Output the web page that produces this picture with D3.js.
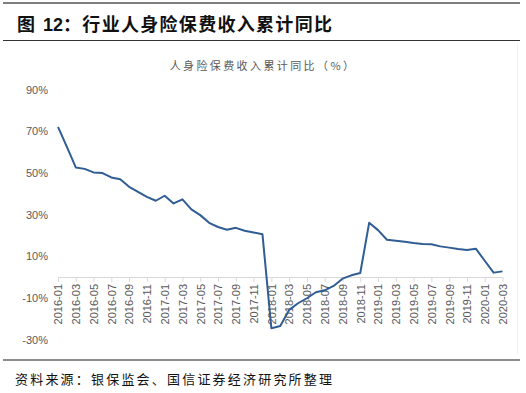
<!DOCTYPE html>
<html>
<head>
<meta charset="utf-8">
<script src="https://cdn.jsdelivr.net/npm/d3@7"></script>
<style>
  body { margin: 0; background: #fff; }
  svg { display: block; }
</style>
</head>
<body>
<div id="chart"></div>
<script>
// 月份 2016-01 ~ 2020-03
const months = [
    '2016-01', '2016-02', '2016-03', '2016-04', '2016-05', '2016-06', '2016-07', '2016-08', '2016-09', '2016-10', '2016-11', '2016-12',
    '2017-01', '2017-02', '2017-03', '2017-04', '2017-05', '2017-06', '2017-07', '2017-08', '2017-09', '2017-10', '2017-11', '2017-12',
    '2018-01', '2018-02', '2018-03', '2018-04', '2018-05', '2018-06', '2018-07', '2018-08', '2018-09', '2018-10', '2018-11', '2018-12',
    '2019-01', '2019-02', '2019-03', '2019-04', '2019-05', '2019-06', '2019-07', '2019-08', '2019-09', '2019-10', '2019-11', '2019-12',
    '2020-01', '2020-02', '2020-03'
];

// 人身险保费收入累计同比（%）
const growth = [
    72.1, 62.5, 52.6, 51.9, 50.2, 49.9, 47.8, 46.9, 43.3, 40.9, 38.5, 36.6,
    39.0, 35.3, 37.3, 32.5, 29.7, 26.0, 24.0, 22.7, 23.6, 22.2, 21.4, 20.5,
    -24.6, -23.5, -15.8, -12.6, -10.2, -7.3, -6.4, -4.3, -0.8, 0.8, 1.9, 26.0,
    22.5, 17.9, 17.4, 16.9, 16.3, 15.8, 15.7, 14.7, 14.1, 13.4, 13.0, 13.6,
    7.8, 2.1, 2.7
];

const yTicks = [90, 70, 50, 30, 10, -10, -30];
const xTickLabels = months.filter((m, i) => i % 2 === 0);

const W = 526, H = 393;
const svg = d3.select('#chart').append('svg')
    .attr('width', W)
    .attr('height', H);

// 上下分隔线
svg.append('line')
    .attr('x1', 3).attr('x2', 520).attr('y1', 3).attr('y2', 3)
    .attr('stroke', '#555').attr('stroke-width', 1.5);
svg.append('line')
    .attr('x1', 3).attr('x2', 520).attr('y1', 40.5).attr('y2', 40.5)
    .attr('stroke', '#333').attr('stroke-width', 1.2);
svg.append('line')
    .attr('x1', 3).attr('x2', 520).attr('y1', 360).attr('y2', 360)
    .attr('stroke', '#666').attr('stroke-width', 1.5);
svg.append('line')
    .attr('x1', 517.5).attr('x2', 517.5).attr('y1', 44).attr('y2', 354)
    .attr('stroke', '#f0f0f0').attr('stroke-width', 1);

// 标题
const title = svg.append('text')
    .attr('y', 31)
    .style('font-family', '"Noto Sans CJK SC", sans-serif')
    .style('font-size', '18px')
    .style('font-weight', 'bold')
    .attr('fill', '#111');
title.append('tspan').attr('x', 17).text('图');
title.append('tspan').attr('x', 43).text('12').style('font-family', '"Liberation Sans", Arial, sans-serif');
title.append('tspan').style('letter-spacing', '1.3px').text('：行业人身险保费收入累计同比');

svg.append('text')
    .attr('x', 263).attr('y', 70)
    .attr('text-anchor', 'middle')
    .style('font-family', '"Noto Sans CJK SC", sans-serif')
    .style('font-size', '11px')
    .style('letter-spacing', '2.4px')
    .attr('fill', '#595959')
    .text('人身险保费收入累计同比（%）');

svg.append('text')
    .attr('x', 15).attr('y', 384)
    .style('font-family', '"Noto Sans CJK SC", sans-serif')
    .style('font-size', '13px')
    .style('letter-spacing', '2.2px')
    .attr('fill', '#111')
    .text('资料来源：银保监会、国信证券经济研究所整理');

// 坐标
const x = d3.scalePoint()
    .domain(months)
    .range([58, 502.5]);

const y = d3.scaleLinear()
    .domain([-30, 90])
    .range([339.5, 89.5]);

// y 轴标签
const yAxis = svg.append('g')
    .attr('transform', 'translate(48,0)')
    .call(d3.axisLeft(y).tickValues(yTicks).tickSize(0).tickFormat(d => d + '%'));
yAxis.select('.domain').remove();
yAxis.selectAll('text')
    .attr('x', 0)
    .style('font-family', '"Liberation Sans", Arial, sans-serif')
    .style('font-size', '11px')
    .attr('fill', '#595959');

// x 轴 (y = 0)
const xAxis = svg.append('g')
    .attr('transform', `translate(0,${y(0)})`)
    .call(d3.axisBottom(x).tickValues(xTickLabels).tickSize(5).tickSizeOuter(0));
xAxis.select('.domain').attr('stroke', '#d9d9d9');
xAxis.selectAll('.tick line').attr('stroke', '#d9d9d9');
xAxis.selectAll('text')
    .attr('transform', 'rotate(-90)')
    .attr('text-anchor', 'end')
    .attr('x', -7)
    .attr('y', 0)
    .attr('dy', '0.35em')
    .style('font-family', '"Liberation Sans", Arial, sans-serif')
    .style('font-size', '11px')
    .attr('fill', '#595959');

// 折线
const line = d3.line()
    .x((d, i) => x(months[i]))
    .y(d => y(d));

svg.append('path')
    .datum(growth)
    .attr('d', line)
    .attr('fill', 'none')
    .attr('stroke', '#2f5d94')
    .attr('stroke-width', 2)
    .attr('stroke-linejoin', 'round');
</script>
</body>
</html>
